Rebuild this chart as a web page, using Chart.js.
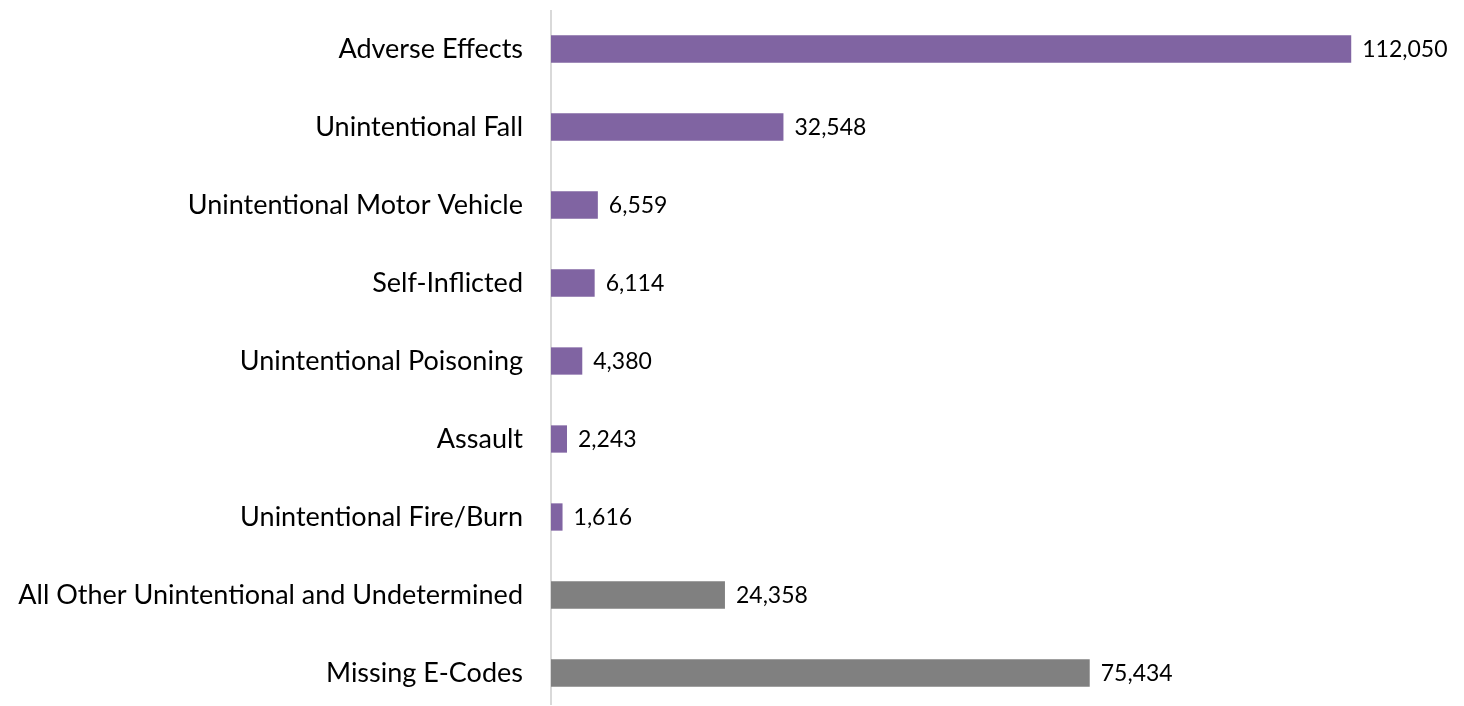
<!DOCTYPE html>
<html>
<head>
<meta charset="utf-8">
<script src="https://cdn.jsdelivr.net/npm/chart.js@4"></script>
<style>
  html, body { margin: 0; padding: 0; background: #fff; overflow: hidden; }
  #wrap { width: 1464px; height: 712px; position: relative; }
</style>
</head>
<body>
<div id="wrap"><canvas id="myChart"></canvas></div>
<script>
const categories = [
  "Adverse Effects",
  "Unintentional Fall",
  "Unintentional Motor Vehicle",
  "Self-Inflicted",
  "Unintentional Poisoning",
  "Assault",
  "Unintentional Fire/Burn",
  "All Other Unintentional and Undetermined",
  "Missing E-Codes"
];
const counts = [112050, 32548, 6559, 6114, 4380, 2243, 1616, 24358, 75434];
const barColors = ["#8064A2", "#8064A2", "#8064A2", "#8064A2", "#8064A2", "#8064A2", "#8064A2", "#808080", "#808080"];

const FONT = "Lato";

// value labels at the end of each bar
const valueLabels = {
  id: 'valueLabels',
  afterDatasetsDraw(chart) {
    const ctx = chart.ctx;
    const meta = chart.getDatasetMeta(0);
    ctx.save();
    ctx.font = "23px " + FONT;
    ctx.fillStyle = "#000";
    ctx.textBaseline = "middle";
    ctx.textAlign = "left";
    meta.data.forEach((bar, i) => {
      ctx.fillText(counts[i].toLocaleString('en-US'), bar.x + 11, bar.y + 1);
    });
    ctx.restore();
  }
};

// light vertical axis line
const axisLine = {
  id: 'axisLine',
  beforeDatasetsDraw(chart) {
    const ctx = chart.ctx;
    const x = chart.scales.x.left;
    ctx.save();
    ctx.strokeStyle = "#D9D9D9";
    ctx.lineWidth = 2;
    ctx.beginPath();
    ctx.moveTo(x, 10);
    ctx.lineTo(x, 705);
    ctx.stroke();
    ctx.restore();
  }
};

const ctx = document.getElementById('myChart');
new Chart(ctx, {
  type: 'bar',
  data: {
    labels: categories,
    datasets: [{
      data: counts,
      backgroundColor: barColors,
      borderWidth: 0,
      barPercentage: 0.35,
      categoryPercentage: 1.0
    }]
  },
  options: {
    indexAxis: 'y',
    responsive: true,
    maintainAspectRatio: false,
    animation: false,
    layout: { padding: { top: 10, bottom: 0, left: 0, right: 56 } },
    plugins: {
      legend: { display: false },
      tooltip: { enabled: false }
    },
    scales: {
      x: {
        min: 0,
        max: 120000,
        display: false
      },
      y: {
        grid: { display: false, drawTicks: false },
        border: { display: false },
        afterFit(scale) {
          scale.width = 551;
          scale.paddingTop = 0;
          scale.paddingBottom = 0;
        },
        ticks: {
          color: "#000",
          padding: 28,
          font: { family: FONT, size: 27 }
        }
      }
    }
  },
  plugins: [axisLine, valueLabels]
});
</script>
</body>
</html>
